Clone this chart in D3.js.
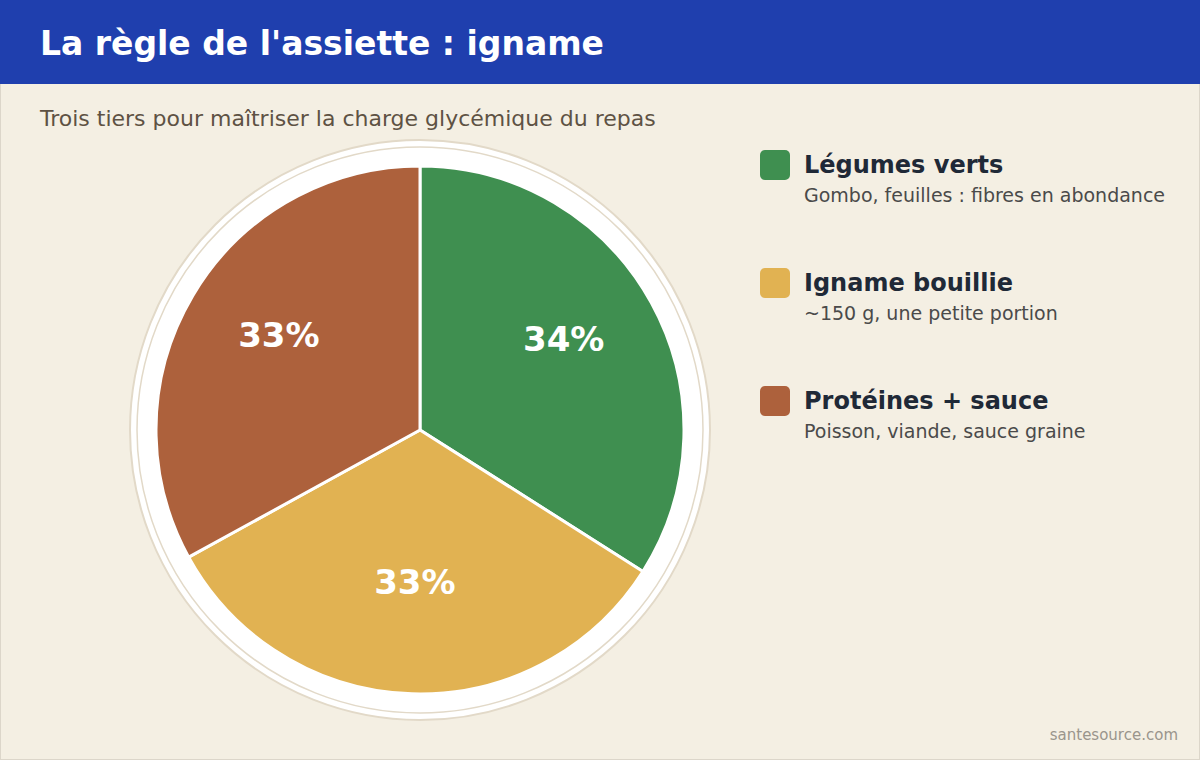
<!DOCTYPE html>
<html>
<head>
<meta charset="utf-8">
<script src="https://cdn.jsdelivr.net/npm/d3@7"></script>
<style>
  body { margin: 0; background: #f4efe3; }
  svg { display: block; font-family: "DejaVu Sans", sans-serif; }
</style>
</head>
<body>
<svg width="1200" height="760"></svg>
<script>
var categories = ["Légumes verts", "Igname bouillie", "Protéines + sauce"];
var values = [34, 33, 33];
var notes = ["Gombo, feuilles : fibres en abondance", "~150 g, une petite portion", "Poisson, viande, sauce graine"];
var colors = ["#3f8f50", "#e1b252", "#ad613c"];

var svg = d3.select("svg"),
    width = +svg.attr("width"),
    height = +svg.attr("height");

// page background + thin frame
svg.append("rect")
    .attr("x", 0.5).attr("y", 0.5)
    .attr("width", width - 1).attr("height", height - 1)
    .attr("fill", "#f4efe3")
    .attr("stroke", "#dcd6ca");

// header band
svg.append("rect")
    .attr("x", 0).attr("y", 0)
    .attr("width", width).attr("height", 84)
    .attr("fill", "#1f3fae");

svg.append("text")
    .attr("x", 40).attr("y", 55)
    .attr("fill", "#ffffff")
    .attr("font-size", 33)
    .attr("font-weight", "bold")
    .text("La règle de l'assiette : igname");

svg.append("text")
    .attr("x", 40).attr("y", 126)
    .attr("fill", "#5e5244")
    .attr("font-size", 22)
    .text("Trois tiers pour maîtriser la charge glycémique du repas");

// plate
var cx = 420, cy = 430, radius = 264;
var plate = svg.append("g").attr("transform", "translate(" + cx + "," + cy + ")");

plate.append("circle")
    .attr("r", 290)
    .attr("fill", "#ffffff")
    .attr("stroke", "#e2d9c8")
    .attr("stroke-width", 2);

plate.append("circle")
    .attr("r", 283)
    .attr("fill", "none")
    .attr("stroke", "#e2d9c8")
    .attr("stroke-width", 1.5);

var pie = d3.pie().sort(null).value(function(d) { return d; });
var arc = d3.arc().innerRadius(0).outerRadius(radius);
var labelArc = d3.arc().innerRadius(164).outerRadius(164);

var slices = pie(values);

plate.selectAll("path.slice")
    .data(slices)
  .enter().append("path")
    .attr("class", "slice")
    .attr("d", arc)
    .attr("fill", function(d, i) { return colors[i]; })
    .attr("stroke", "#ffffff")
    .attr("stroke-width", 3)
    .attr("stroke-linejoin", "round");

plate.selectAll("text.pct")
    .data(slices)
  .enter().append("text")
    .attr("class", "pct")
    .attr("transform", function(d) { return "translate(" + labelArc.centroid(d) + ")"; })
    .attr("text-anchor", "middle")
    .attr("fill", "#ffffff")
    .attr("font-size", 34)
    .attr("font-weight", "bold")
    .text(function(d) { return d.value + "%"; });

// legend
var legend = svg.selectAll("g.legend")
    .data(categories)
  .enter().append("g")
    .attr("class", "legend")
    .attr("transform", function(d, i) { return "translate(760," + (150 + i * 118) + ")"; });

legend.append("rect")
    .attr("width", 30).attr("height", 30)
    .attr("rx", 5)
    .attr("fill", function(d, i) { return colors[i]; });

legend.append("text")
    .attr("x", 44).attr("y", 23)
    .attr("fill", "#1f2937")
    .attr("font-size", 24)
    .attr("font-weight", "bold")
    .text(function(d) { return d; });

legend.append("text")
    .attr("x", 44).attr("y", 52)
    .attr("fill", "#4a4a4a")
    .attr("font-size", 19)
    .text(function(d, i) { return notes[i]; });

svg.append("text")
    .attr("x", 1178).attr("y", 740)
    .attr("text-anchor", "end")
    .attr("fill", "#9a958c")
    .attr("font-size", 15)
    .text("santesource.com");
</script>
</body>
</html>
